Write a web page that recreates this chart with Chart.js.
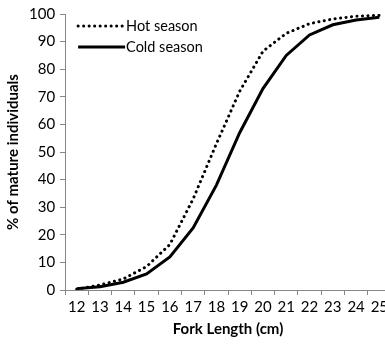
<!DOCTYPE html>
<html><head><meta charset="utf-8">
<script src="https://cdn.jsdelivr.net/npm/chart.js@4.4.1/dist/chart.umd.min.js"></script>
<style>html,body{margin:0;padding:0;background:#fff;overflow:hidden;width:385px;height:345px}#wrap{width:400px;height:345px}</style>
</head><body><div id="wrap"><canvas id="c" width="400" height="345"></canvas></div>
<script>
const categories = ['12','13','14','15','16','17','18','19','20','21','22','23','24','25'];
const hotSeason = [0.3, 1.8, 4, 8.5, 16.5, 33, 53, 72, 86.5, 93, 96.5, 98.2, 99.2, 99.5];
const coldSeason = [0.5, 1.2, 2.8, 5.8, 12, 22.5, 38, 57, 73, 85, 92.4, 96.1, 97.8, 98.8];
const FONT = 'Lato';
const legendPlugin = {
  id: 'inLegend',
  afterDraw(chart) {
    const ctx = chart.ctx; const a = chart.chartArea;
    chart.data.datasets.forEach((ds, i) => {
      const y = a.top + 12 + i * 21;
      const x0 = a.left + 13, x1 = a.left + 60;
      ctx.save();
      ctx.strokeStyle = '#000'; ctx.lineWidth = ds.borderWidth;
      ctx.lineCap = ds.borderCapStyle || 'butt';
      ctx.setLineDash(ds.borderDash || []);
      ctx.beginPath(); ctx.moveTo(x0, y); ctx.lineTo(x1, y); ctx.stroke();
      ctx.setLineDash([]);
      ctx.fillStyle = '#000'; ctx.font = '14.5px ' + FONT; ctx.textBaseline = 'middle';
      ctx.fillText(ds.label, x1 + 1, y);
      ctx.restore();
    });
  }
};
new Chart(document.getElementById('c'), {
  type: 'line',
  data: { labels: categories, datasets: [
    { label: 'Hot season', data: hotSeason, borderColor: '#000', borderWidth: 3, borderDash: [0.1, 5.4], borderCapStyle: 'round', pointRadius: 0, tension: 0, fill: false },
    { label: 'Cold season', data: coldSeason, borderColor: '#000', borderWidth: 3, pointRadius: 0, tension: 0, fill: false }
  ]},
  options: {
    responsive: false, animation: false,
    layout: { padding: { left: 4, top: 8, right: 9, bottom: 7 } },
    plugins: { legend: { display: false }, tooltip: { enabled: false } },
    scales: {
      x: { type: 'category', offset: true,
        grid: { offset: true, drawOnChartArea: false, tickLength: 5, color: '#868686' },
        border: { color: '#868686' },
        ticks: { color: '#000', font: { family: FONT, size: 15 }, padding: 3, maxRotation: 0, autoSkip: false },
        title: { display: true, text: 'Fork Length (cm)', color: '#000', font: { family: FONT, size: 15, weight: 'bold' }, padding: { top: 1, bottom: 0 } } },
      y: { min: 0, max: 100,
        grid: { drawOnChartArea: false, tickLength: 5, color: '#868686' },
        border: { color: '#868686' },
        ticks: { stepSize: 10, color: '#000', font: { family: FONT, size: 15 }, padding: 5 },
        title: { display: true, text: '% of mature individuals', color: '#000', font: { family: FONT, size: 15, weight: 'bold' }, padding: { top: 0, bottom: 2 } } }
    }
  },
  plugins: [legendPlugin]
});
</script></body></html>
